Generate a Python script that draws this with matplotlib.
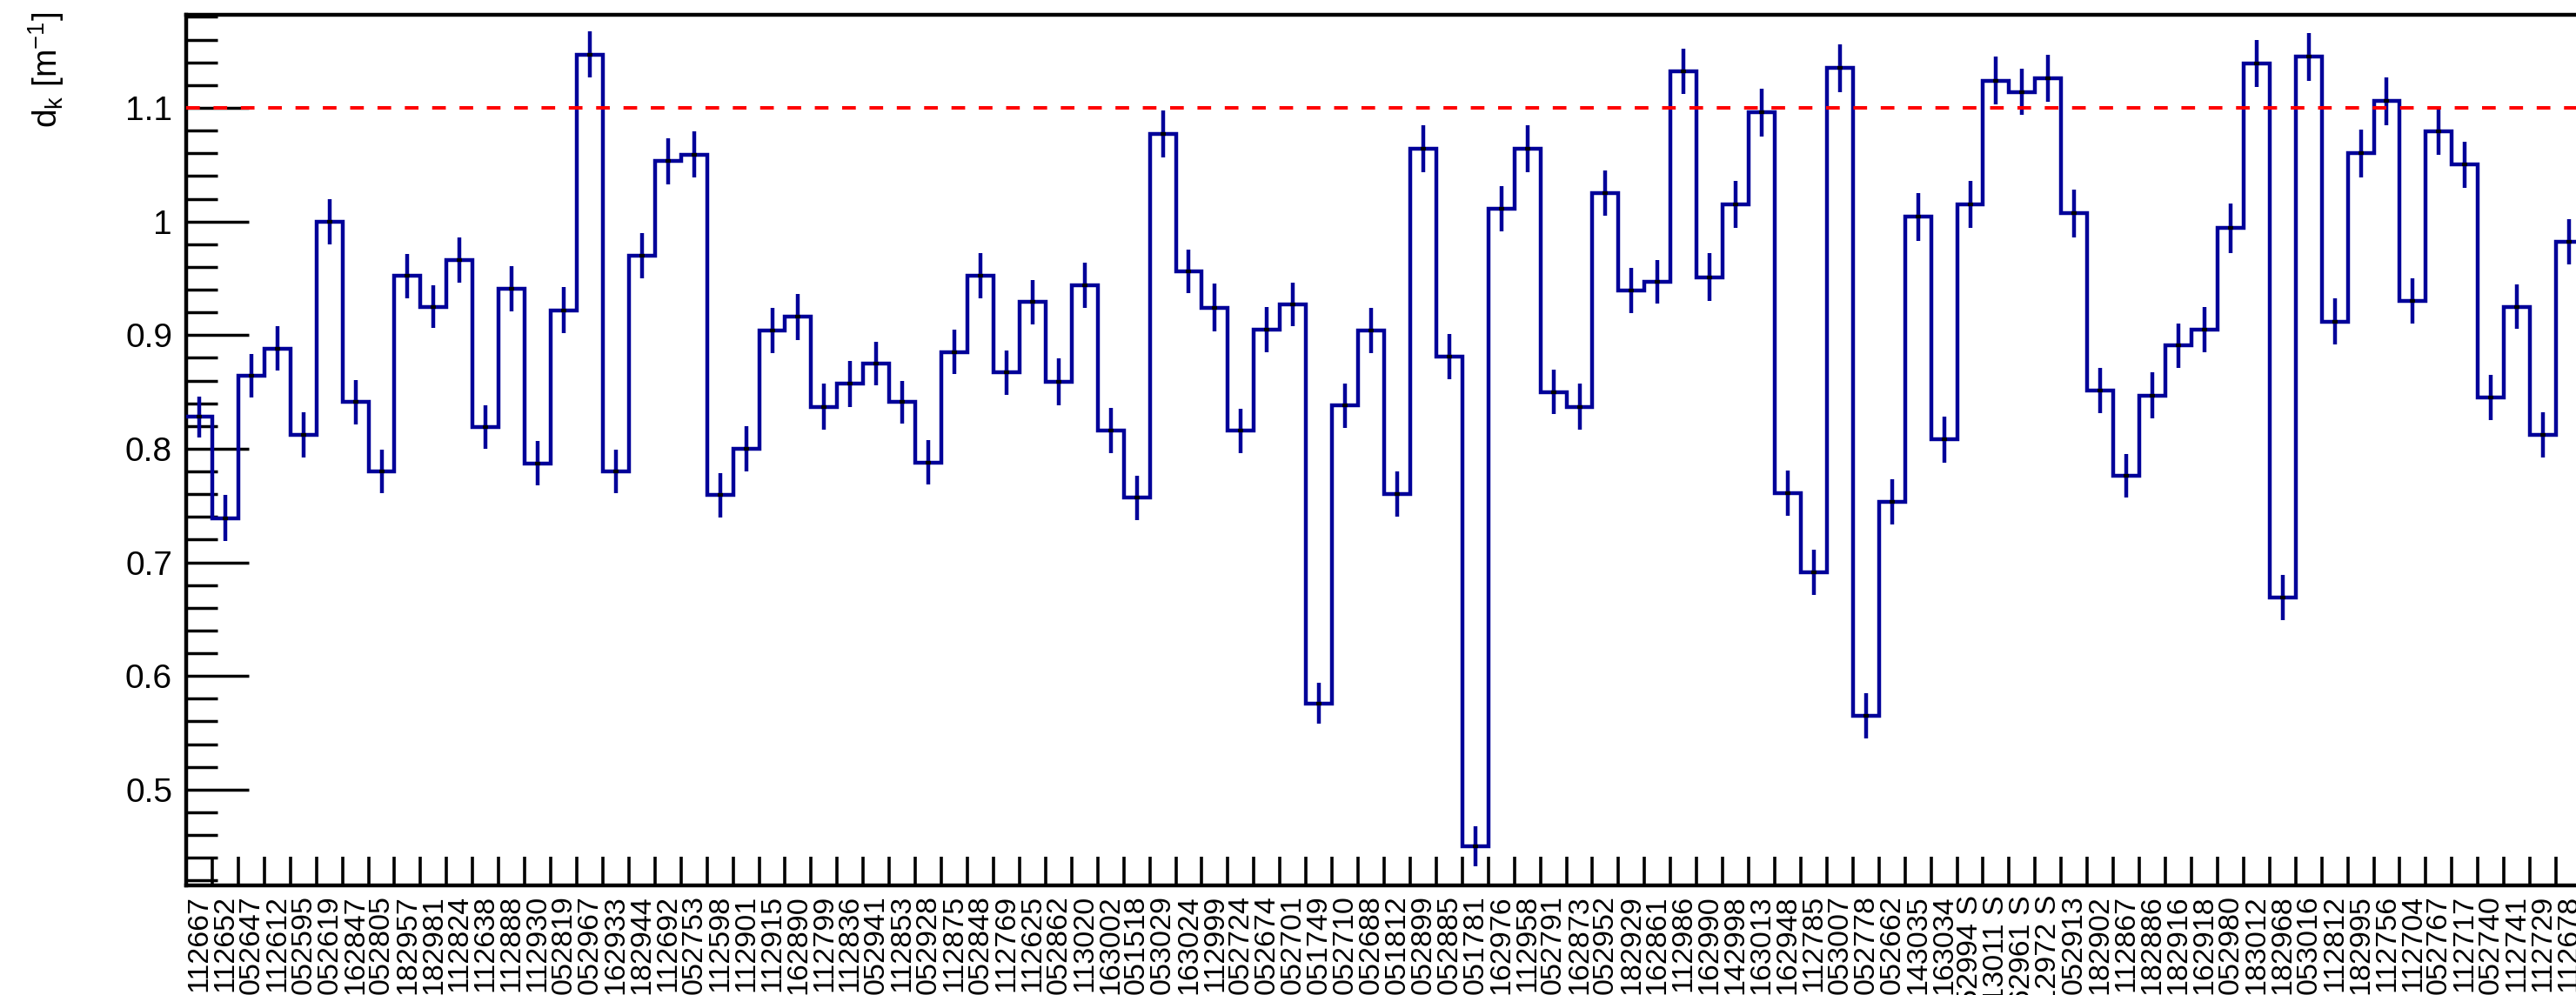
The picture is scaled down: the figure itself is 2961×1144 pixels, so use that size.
import numpy as np
import matplotlib
matplotlib.use('Agg')
import matplotlib.pyplot as plt
from matplotlib.ticker import FixedLocator, FixedFormatter, MultipleLocator, NullFormatter, FuncFormatter

# run labels (bins), left to right
runs = ['112667', '112652', '052647', '112612', '052595', '052619', '162847', '052805', '182957', '182981',
        '112824', '112638', '112888', '112930', '052819', '052967', '162933', '182944', '112692', '052753',
        '112598', '112901', '112915', '162890', '112799', '112836', '052941', '112853', '052928', '112875',
        '052848', '112769', '112625', '052862', '113020', '163002', '051518', '053029', '163024', '112999',
        '052724', '052674', '052701', '051749', '052710', '052688', '051812', '052899', '052885', '051781',
        '162976', '112958', '052791', '162873', '052952', '182929', '162861', '112986', '162990', '142998',
        '163013', '162948', '112785', '053007', '052778', '052662', '143035', '163034', '052994 S', '113011 S',
        '162961 S', '112972 S', '052913', '182902', '112867', '182886', '182916', '162918', '052980', '183012',
        '182968', '053016', '112812', '182995', '112756', '112704', '052767', '112717', '052740', '112741',
        '112729', '112678']

# d_k per run
vals = [0.828, 0.739, 0.864, 0.888, 0.812, 1.000, 0.841, 0.780, 0.952, 0.925,
        0.966, 0.819, 0.941, 0.787, 0.922, 1.147, 0.780, 0.970, 1.053, 1.059,
        0.759, 0.800, 0.904, 0.916, 0.837, 0.857, 0.875, 0.841, 0.788, 0.885,
        0.952, 0.867, 0.929, 0.859, 0.944, 0.816, 0.757, 1.077, 0.956, 0.924,
        0.816, 0.905, 0.927, 0.576, 0.838, 0.904, 0.760, 1.064, 0.881, 0.450,
        1.011, 1.064, 0.850, 0.837, 1.025, 0.939, 0.947, 1.132, 0.951, 1.015,
        1.096, 0.761, 0.691, 1.135, 0.565, 0.753, 1.004, 0.808, 1.015, 1.124,
        1.114, 1.126, 1.007, 0.851, 0.776, 0.847, 0.891, 0.905, 0.994, 1.139,
        0.669, 1.145, 0.912, 1.060, 1.106, 0.930, 1.079, 1.050, 0.845, 0.925,
        0.812, 0.982]

errs = [0.018, 0.020, 0.019, 0.0195, 0.020, 0.020, 0.0195, 0.019, 0.0195, 0.019,
        0.020, 0.019, 0.020, 0.0195, 0.020, 0.0205, 0.019, 0.020, 0.020, 0.0205,
        0.0195, 0.020, 0.020, 0.0205, 0.020, 0.020, 0.019, 0.019, 0.0195, 0.0195,
        0.020, 0.0195, 0.0195, 0.0205, 0.020, 0.020, 0.0195, 0.021, 0.019, 0.021,
        0.0195, 0.020, 0.019, 0.018, 0.0195, 0.020, 0.020, 0.021, 0.020, 0.0175,
        0.020, 0.021, 0.0195, 0.020, 0.020, 0.020, 0.019, 0.020, 0.021, 0.021,
        0.021, 0.020, 0.020, 0.021, 0.020, 0.020, 0.021, 0.020, 0.0205, 0.021,
        0.0205, 0.021, 0.021, 0.020, 0.019, 0.020, 0.0195, 0.020, 0.0215, 0.021,
        0.020, 0.021, 0.020, 0.021, 0.021, 0.020, 0.020, 0.0205, 0.020, 0.0195,
        0.020, 0.020]

ref_level = 1.1

plt.rcParams['font.family'] = ['Liberation Sans', 'DejaVu Sans']
plt.rcParams['mathtext.fontset'] = 'custom'
plt.rcParams['mathtext.rm'] = 'Liberation Sans'
plt.rcParams['mathtext.it'] = 'Liberation Sans'
plt.rcParams['mathtext.default'] = 'regular'
plt.rcParams['axes.unicode_minus'] = False

W, H = 2961, 1144
fig = plt.figure(figsize=(W / 100, H / 100), dpi=100)
# the frame runs a little past the right edge of the picture, like the original
ax = fig.add_axes([214 / W, 126 / H, 2754 / W, 1001.4 / H])

edges = np.arange(len(vals) + 1)
centers = edges[:-1] + 0.5
blue = '#000099'

ax.stairs(vals, edges, color=blue, lw=3.2, baseline=None, zorder=3)
ax.errorbar(centers, vals, yerr=errs, fmt='none', ecolor=blue, elinewidth=3.2, capsize=0, zorder=3)
ax.plot(centers, vals, ls='none', marker='_', ms=4.5, mew=3, color='black', zorder=4)
ax.axhline(ref_level, color='red', lw=2.9, ls=(0, (3.9, 3.9)), zorder=5)

ax.set_xlim(0, len(vals))
ax.set_ylim(0.4157, 1.1822)

# x: ticks on bin edges, labels on bin centres
ax.xaxis.set_major_locator(FixedLocator(edges))
ax.xaxis.set_major_formatter(NullFormatter())
ax.xaxis.set_minor_locator(FixedLocator(centers))
ax.xaxis.set_minor_formatter(FixedFormatter(runs))
ax.tick_params(axis='x', which='major', direction='in', length=24, width=2.6, top=False)
ax.tick_params(axis='x', which='minor', length=0, labelsize=24.5, labelrotation=90, pad=8)

ax.yaxis.set_major_locator(MultipleLocator(0.1))
ax.yaxis.set_major_formatter(FuncFormatter(lambda v, p: '%g' % round(v, 2)))
ax.yaxis.set_minor_locator(MultipleLocator(0.02))
ax.tick_params(axis='y', which='major', direction='in', length=52, width=2.5, labelsize=28, pad=11.5, right=False)
ax.tick_params(axis='y', which='minor', direction='in', length=26, width=2.5, right=False)

for s in ax.spines.values():
    s.set_linewidth(3.2)

fig.text(53 / W, 1 - 14 / H, 'd$_{k}$ [m$^{-1}$]', rotation=90, ha='center', va='top', fontsize=28)

fig.savefig('out.png', dpi=100)
